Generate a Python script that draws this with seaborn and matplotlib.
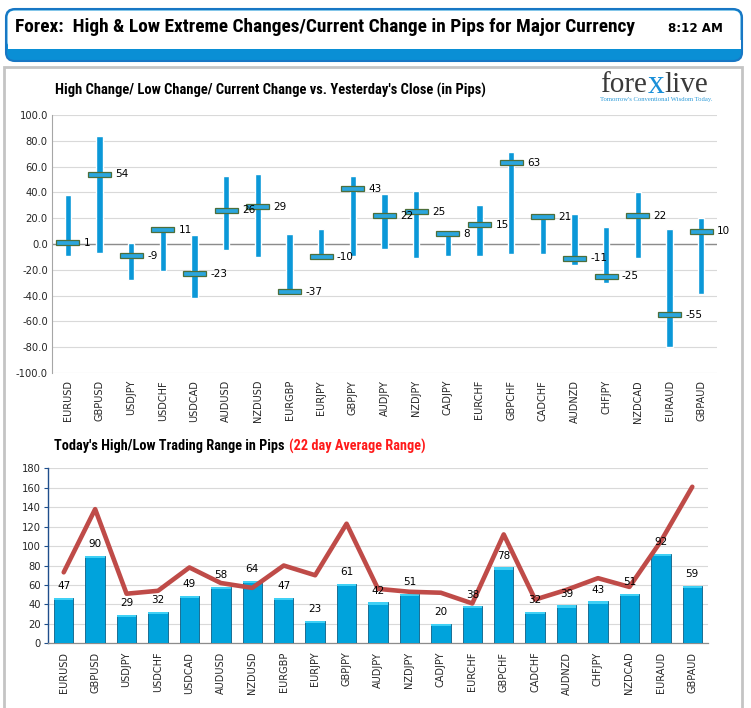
import numpy as np
import pandas as pd
import matplotlib
matplotlib.use("Agg")
import matplotlib.pyplot as plt
from matplotlib import font_manager
from matplotlib.patches import FancyBboxPatch, Rectangle
import seaborn as sns

pairs = ["EURUSD", "GBPUSD", "USDJPY", "USDCHF", "USDCAD", "AUDUSD", "NZDUSD",
         "EURGBP", "EURJPY", "GBPJPY", "AUDJPY", "NZDJPY", "CADJPY", "EURCHF",
         "GBPCHF", "CADCHF", "AUDNZD", "CHFJPY", "NZDCAD", "EURAUD", "GBPAUD"]
high_change = [38, 84, 1, 12, 7, 53, 54, 8, 12, 53, 39, 41, 11, 30, 71, 22, 23, 13, 40, 12, 20]
low_change = [-9, -7, -28, -21, -42, -5, -10, -38, -11, -9, -4, -11, -9, -9, -8, -8, -16, -30, -11, -80, -39]
current_change = [1, 54, -9, 11, -23, 26, 29, -37, -10, 43, 22, 25, 8, 15, 63, 21, -11, -25, 22, -55, 10]
today_range = [47, 90, 29, 32, 49, 58, 64, 47, 23, 61, 42, 51, 20, 38, 78, 32, 39, 43, 51, 92, 59]
avg_range_22d = [73, 138, 51, 54, 78, 62, 57, 80, 70, 123, 56, 53, 52, 41, 112, 45, 55, 67, 58, 105, 161]
top_yticks = [-100, -80, -60, -40, -20, 0, 20, 40, 60, 80, 100]
bottom_yticks = [0, 20, 40, 60, 80, 100, 120, 140, 160, 180]

df = pd.DataFrame({"pair": pairs, "high": high_change, "low": low_change,
                   "cur": current_change, "range": today_range, "avg": avg_range_22d})

sns.set_theme(style="white")
plt.rcParams["font.family"] = ["DejaVu Sans"]


def first_font(cands):
    for c in cands:
        try:
            font_manager.findfont(font_manager.FontProperties(family=c, weight="bold"),
                                  fallback_to_default=False)
            return c
        except Exception:
            continue
    return "DejaVu Sans"


NARROW = [first_font(["Liberation Sans Narrow", "DejaVu Sans Condensed", "Roboto Condensed",
                      "Roboto", "Liberation Sans"]), "DejaVu Sans"]
SERIF = [first_font(["Liberation Serif", "DejaVu Serif"]), "DejaVu Serif"]

W, H = 751, 708
fig = plt.figure(figsize=(W / 100, H / 100), dpi=100)
fig.patch.set_facecolor("white")
renderer = fig.canvas.get_renderer()


def fx(px):
    return px / W


def fy(py):
    return 1 - py / H


def fit_text(x0, x1, y, s, fs, **kw):
    t = fig.text(fx(x0), fy(y), s, fontsize=fs, va="center", ha="left", **kw)
    w = t.get_window_extent(renderer=renderer).width
    t.set_fontsize(fs * (x1 - x0) / w)
    return t


# ---- header box ----
blue = "#0a8fd5"
fig.patches.append(FancyBboxPatch((fx(6), fy(61)), fx(736), fy(9) - fy(61),
                                  boxstyle="round,pad=0,rounding_size=0.012",
                                  transform=fig.transFigure, facecolor=blue,
                                  edgecolor="#1877c4", linewidth=1.5, zorder=0))
fig.patches.append(FancyBboxPatch((fx(7.5), fy(49)), fx(733), fy(10.5) - fy(49),
                                  boxstyle="round,pad=0,rounding_size=0.01",
                                  transform=fig.transFigure, facecolor="white",
                                  edgecolor="none", zorder=0.5))
fig.patches.append(Rectangle((fx(7.5), fy(49)), fx(733), fy(40) - fy(49),
                             transform=fig.transFigure, facecolor="white",
                             edgecolor="none", zorder=0.6))
fit_text(15, 632, 27.5, "Forex:  High & Low Extreme Changes/Current Change in Pips for Major Currency",
         13, family=NARROW, fontweight="bold", color="black")
fit_text(668, 723, 28, "8:12 AM", 8.5, fontweight="bold", color="black")

# ---- panel border ----
fig.patches.append(Rectangle((fx(4), fy(712)), fx(738), fy(67) - fy(712),
                             transform=fig.transFigure, facecolor="none",
                             edgecolor="#c4c4c4", linewidth=2, zorder=0))

# ---- logo ----
xpos = 600
for part, col, fs in [("fore", "#3a3a3a", 21), ("x", "#1a8fd8", 24), ("live", "#3a3a3a", 21)]:
    t = fig.text(fx(xpos), fy(85), part, family=SERIF, fontsize=fs, color=col,
                 va="center", ha="left")
    xpos += t.get_window_extent(renderer=renderer).width + 0.5
fit_text(600, 712, 100, "Tomorrow's Conventional Wisdom Today.", 4, family=SERIF,
         color="#2a9ad8")

# ---- top chart ----
ax1 = fig.add_axes([fx(52), fy(373), fx(717) - fx(52), fy(115) - fy(373)])
x = np.arange(len(pairs))
ax1.bar(x, df["high"] - df["low"], bottom=df["low"], width=0.19, color="#0b98d8", zorder=3)
ax1.bar(x, 3.8, bottom=df["cur"] - 1.9, width=0.72, color="#2aa6de", edgecolor="#4d6e3a",
        linewidth=0.9, zorder=4)
for xi, v in zip(x, df["cur"]):
    ax1.text(xi + 0.5, v, f"{v}", fontsize=7.5, va="center", ha="left", color="black", zorder=5)
ax1.set_xlim(-0.5, len(pairs) - 0.5)
ax1.set_ylim(-100, 100)
ax1.set_yticks(top_yticks)
ax1.set_yticklabels([f"{t:.1f}" for t in top_yticks], fontsize=7.2)
ax1.set_xticks(x)
ax1.set_xticklabels(pairs, rotation=90, fontsize=7)
ax1.tick_params(axis="both", length=0, pad=3)
ax1.tick_params(axis="x", pad=5)
ax1.grid(axis="y", color="#d9d9d9", linewidth=0.8, zorder=0)
ax1.axhline(0, color="#8c8c8c", linewidth=1, zorder=2)
for s in ["top", "right", "bottom"]:
    ax1.spines[s].set_visible(False)
ax1.spines["left"].set_color("#a6a6a6")
ax1.spines["left"].set_linewidth(0.8)
ax1.set_facecolor("white")
fit_text(55, 484, 90, "High Change/ Low Change/ Current Change vs. Yesterday's Close (in Pips)",
         10, family=NARROW, fontweight="bold", color="black")

# ---- bottom chart ----
ax2 = fig.add_axes([fx(48), fy(643.3), fx(708) - fx(48), fy(468.3) - fy(643.3)])
sns.barplot(data=df, x="pair", y="range", ax=ax2, color="#00a3dc", width=0.62,
            edgecolor="#0a5f85", linewidth=0.6, saturation=1, zorder=3)
ax2.bar(x, 2.2, bottom=df["range"] - 2.2, width=0.62, color="#3fd0f5", edgecolor="none", zorder=3.5)
sns.lineplot(x=x, y=df["avg"].values, ax=ax2, color="#bf4b48", linewidth=3.3, zorder=4)
for xi, v in zip(x, df["range"]):
    ax2.text(xi, v + 7, f"{v}", fontsize=7.5, va="bottom", ha="center", color="black", zorder=5)
ax2.set_xlim(-0.5, len(pairs) - 0.5)
ax2.set_ylim(0, 180)
ax2.set_yticks(bottom_yticks)
ax2.set_yticklabels([str(t) for t in bottom_yticks], fontsize=7.2)
ax2.set_xticks(x)
ax2.set_xticklabels(pairs, rotation=90, fontsize=7)
ax2.set_xticks(np.arange(-0.5, len(pairs), 1), minor=True)
ax2.tick_params(axis="x", which="major", length=0, pad=6)
ax2.tick_params(axis="x", which="minor", length=4, color="#8c8c8c", width=0.8, direction="out")
ax2.tick_params(axis="y", length=3, color="#1f4e8c", width=0.8, direction="out", left=True, pad=2)
ax2.set_xlabel("")
ax2.set_ylabel("")
ax2.grid(axis="y", color="#d9d9d9", linewidth=0.8, zorder=0)
ax2.set_axisbelow(True)
for s in ["top", "right"]:
    ax2.spines[s].set_visible(False)
ax2.spines["left"].set_color("#1f4e8c")
ax2.spines["left"].set_linewidth(1)
ax2.spines["bottom"].set_color("#8c8c8c")
ax2.spines["bottom"].set_linewidth(0.9)

fit_text(54, 285, 446, "Today's High/Low Trading Range in Pips", 10, family=NARROW,
         fontweight="bold", color="black")
fit_text(289, 426, 446, "(22 day Average Range)", 10, family=NARROW, fontweight="bold",
         color="#ff1a1a")

fig.savefig("out.png", dpi=100, facecolor="white")
